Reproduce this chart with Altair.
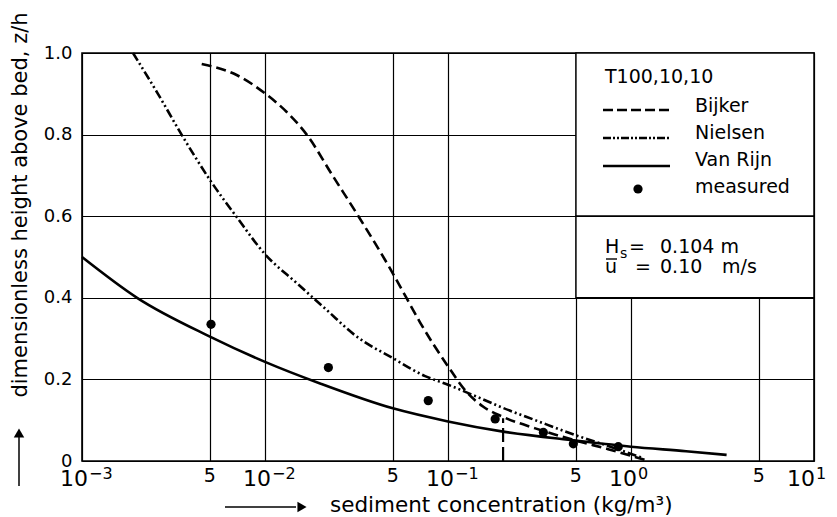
import altair as alt
import pandas as pd

FONT = "DejaVu Sans"

# ---- data ----
vanrijn_x = [0.001, 0.002, 0.005, 0.01, 0.02, 0.05, 0.1, 0.2, 0.5, 1.0, 2.0, 3.33]
vanrijn_y = [0.5, 0.40, 0.305, 0.243, 0.19, 0.129, 0.097, 0.072, 0.05, 0.035, 0.024, 0.015]

nielsen_x = [0.0019, 0.0026, 0.0035, 0.005, 0.007, 0.01, 0.015, 0.0215, 0.0317, 0.05, 0.075, 0.1, 0.15, 0.2, 0.3, 0.5, 0.75, 1.15]
nielsen_y = [1.0, 0.90, 0.80, 0.689, 0.598, 0.507, 0.435, 0.372, 0.305, 0.252, 0.208, 0.187, 0.154, 0.13, 0.10, 0.063, 0.037, 0.008]

bijker_x = [0.00451, 0.007, 0.01, 0.0131, 0.0169, 0.0236, 0.0324, 0.0482, 0.0594, 0.0703, 0.1, 0.126, 0.156, 0.2, 0.3, 0.5, 0.75, 1.25]
bijker_y = [0.973, 0.946, 0.901, 0.856, 0.8, 0.697, 0.6, 0.472, 0.399, 0.34, 0.232, 0.17, 0.133, 0.108, 0.08, 0.05, 0.029, 0.0]

measured_x = [0.00507, 0.0222, 0.078, 0.181, 0.332, 0.484, 0.852]
measured_y = [0.335, 0.229, 0.148, 0.103, 0.070, 0.042, 0.035]

marker_x = [0.2]
marker_y = [0.0]
marker_y2 = [0.105]

xgrid = [0.001, 0.005, 0.01, 0.05, 0.1, 0.5, 1, 5, 10]
xtick_base = ["10", "5", "10", "5", "10", "5", "10", "5", "10"]
xtick_exp = ["\u22123", "", "\u22122", "", "\u22121", "", "0", "", "1"]
ygrid = [0, 0.2, 0.4, 0.6, 0.8, 1.0]

legend_box_x = [0.5, 0.5]
legend_box_x2 = [10, 10]
legend_box_y = [0.6, 0.4]
legend_box_y2 = [1.0, 0.6]

legend_labels = ["Bijker", "Nielsen", "Van Rijn", "measured"]

# ---- scales / axes ----
xscale = alt.Scale(type="log", domain=[1e-3, 10], nice=False)
yscale = alt.Scale(domain=[0, 1], nice=False, zero=False)

xaxis = alt.Axis(values=xgrid, grid=True, labels=False, ticks=False, domain=False,
                 title=None, gridColor="black", gridWidth=1.2, gridOpacity=1)
yaxis = alt.Axis(values=ygrid, grid=True, ticks=False, domain=False, title=None,
                 labelExpr="datum.value == 0 ? '0' : format(datum.value, '.1f')",
                 labelFont=FONT, labelFontSize=18, labelColor="black", labelPadding=10,
                 gridColor="black", gridWidth=1.2, gridOpacity=1)
X = alt.X("x:Q", scale=xscale, axis=xaxis)
Y = alt.Y("y:Q", scale=yscale, axis=yaxis)


def curve(xs, ys, dash=None):
    df = pd.DataFrame({"x": xs, "y": ys})
    kw = dict(color="black", strokeWidth=2.6, interpolate="monotone")
    if dash:
        kw["strokeDash"] = dash
    return alt.Chart(df).mark_line(**kw).encode(x=X, y=Y)


def txt(s, x, y, size=19, align="left", baseline="alphabetic", angle=0):
    return alt.Chart(pd.DataFrame({"t": [s]})).mark_text(
        align=align, baseline=baseline, fontSize=size, font=FONT, color="black", angle=angle
    ).encode(x=alt.value(x), y=alt.value(y), text="t:N")


one = pd.DataFrame({"a": [0]})

layers = []

# curves
layers.append(curve(vanrijn_x, vanrijn_y))
layers.append(curve(nielsen_x, nielsen_y, [9, 3, 2, 3, 2, 3]))
layers.append(curve(bijker_x, bijker_y, [10, 5]))

# dashed marker at 0.2
layers.append(alt.Chart(pd.DataFrame({"x": marker_x, "y": marker_y, "y2": marker_y2}))
              .mark_rule(color="black", strokeWidth=2.2, strokeDash=[14, 5])
              .encode(x=X, y=Y, y2="y2:Q"))

# measured points
layers.append(alt.Chart(pd.DataFrame({"x": measured_x, "y": measured_y}))
              .mark_circle(color="black", size=85, opacity=1)
              .encode(x=X, y=Y))

# legend boxes (cover the grid)
layers.append(alt.Chart(pd.DataFrame({"x": legend_box_x, "x2": legend_box_x2,
                                      "y": legend_box_y, "y2": legend_box_y2}))
              .mark_rect(fill="white", stroke="black", strokeWidth=1.5)
              .encode(x=X, x2="x2:Q", y=Y, y2="y2:Q"))

# legend contents
layers.append(txt("T100,10,10", 523, 30))
row_y = [57, 85, 113]
dashes = [[10, 4], [8, 2, 2, 2, 2, 2], None]
for ry, d in zip(row_y, dashes):
    kw = dict(color="black", strokeWidth=2.6)
    if d:
        kw["strokeDash"] = d
    layers.append(alt.Chart(one).mark_rule(**kw).encode(
        x=alt.value(521), x2=alt.value(588), y=alt.value(ry)))
layers.append(alt.Chart(one).mark_circle(color="black", size=85, opacity=1)
              .encode(x=alt.value(556), y=alt.value(136)))
for lab, ly in zip(legend_labels, [58.7, 85.5, 113, 140]):
    layers.append(txt(lab, 613, ly))

# parameter box
layers.append(txt("H", 523, 200))
layers.append(txt("s", 538, 205, size=14))
layers.append(txt("=", 547, 200))
layers.append(txt("0.104 m", 578, 200))
layers.append(alt.Chart(one).mark_rule(color="black", strokeWidth=1.4).encode(
    x=alt.value(524), x2=alt.value(535), y=alt.value(206)))
layers.append(txt("u", 523, 220))
layers.append(txt("=", 553, 220))
layers.append(txt("0.10", 578, 220))
layers.append(txt("m/s", 640, 220))

# x tick labels
ticks = pd.DataFrame({"x": xgrid, "base": xtick_base, "exp": xtick_exp})
layers.append(alt.Chart(ticks).transform_filter("datum.exp != '' && datum.x < 10")
              .mark_text(align="right", dx=6, baseline="alphabetic", fontSize=22, font=FONT, color="black")
              .encode(x=X, y=alt.value(433), text="base:N"))
layers.append(alt.Chart(ticks).transform_filter("datum.exp != '' && datum.x < 10")
              .mark_text(align="left", dx=7, baseline="alphabetic", fontSize=16, font=FONT, color="black")
              .encode(x=X, y=alt.value(426), text="exp:N"))
# last decade label pulled in a little so it stays inside the page
layers.append(alt.Chart(ticks).transform_filter("datum.x >= 10")
              .mark_text(align="right", dx=1, baseline="alphabetic", fontSize=22, font=FONT, color="black")
              .encode(x=X, y=alt.value(433), text="base:N"))
layers.append(alt.Chart(ticks).transform_filter("datum.x >= 10")
              .mark_text(align="left", dx=2, baseline="alphabetic", fontSize=16, font=FONT, color="black")
              .encode(x=X, y=alt.value(426), text="exp:N"))
layers.append(alt.Chart(ticks).transform_filter("datum.exp == ''")
              .mark_text(align="center", baseline="alphabetic", fontSize=19, font=FONT, color="black")
              .encode(x=X, y=alt.value(429), text="base:N"))

# axis titles with arrows
layers.append(txt("dimensionless height above bed, z/h", -55, 152, size=21, align="center", angle=270))
layers.append(alt.Chart(one).mark_rule(color="black", strokeWidth=1.5).encode(
    x=alt.value(-63), y=alt.value(384), y2=alt.value(433)))
layers.append(alt.Chart(one).mark_point(shape="triangle-up", filled=True, color="black", size=110, opacity=1)
              .encode(x=alt.value(-63), y=alt.value(380)))
layers.append(txt("sediment concentration (kg/m\u00b3)", 248, 459, size=21.5))
layers.append(alt.Chart(one).mark_rule(color="black", strokeWidth=1.5).encode(
    x=alt.value(143), x2=alt.value(214), y=alt.value(454)))
layers.append(alt.Chart(one).mark_point(shape="triangle-right", filled=True, color="black", size=110, opacity=1)
              .encode(x=alt.value(220), y=alt.value(454)))

chart = alt.layer(*layers).properties(
    width=732, height=408,
    background="white",
    padding={"left": 74, "top": 45, "right": 15, "bottom": 58},
    autosize=alt.AutoSizeParams(type="none"),
).configure_view(stroke="black", strokeWidth=1.6)

chart.save("out.html", embed_options={"renderer": "svg", "actions": False})
